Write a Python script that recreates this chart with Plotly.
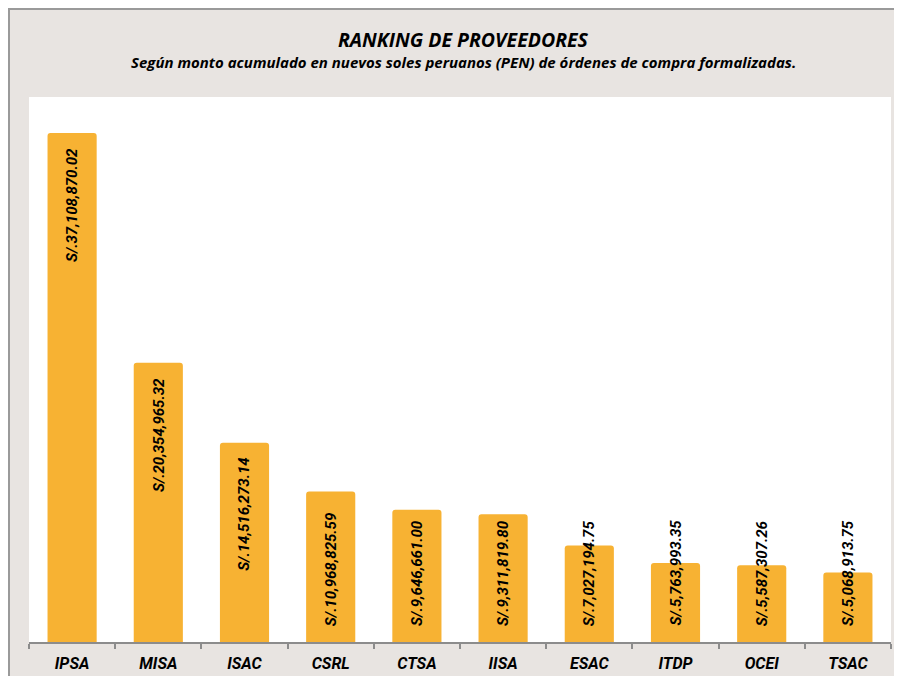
import plotly.graph_objects as go

categories = ["IPSA", "MISA", "ISAC", "CSRL", "CTSA", "IISA", "ESAC", "ITDP", "OCEI", "TSAC"]
values = [37108870.02, 20354965.32, 14516273.14, 10968825.59, 9646661.00,
          9311819.80, 7027194.75, 5763993.35, 5587307.26, 5068913.75]
labels = ["S/.37,108,870.02", "S/.20,354,965.32", "S/.14,516,273.14", "S/.10,968,825.59",
          "S/.9,646,661.00", "S/.9,311,819.80", "S/.7,027,194.75", "S/.5,763,993.35",
          "S/.5,587,307.26", "S/.5,068,913.75"]

# the page has an 8px body margin, so the figure starts at page (8, 8)
W, H = 894, 668
L, R, T, B = 21, 883, 89, 634
BG = "#E8E4E1"
BAR = "#F7B233"
FONT = "Roboto"
TFONT = "Open Sans"

fig = go.Figure(go.Bar(
    x=categories, y=values,
    marker=dict(color=BAR, line=dict(width=0), cornerradius=3),
    hoverinfo="skip",
))

ymax = 39.73e6
# labels: "inside end" when the bar is tall enough, otherwise pushed to the base
threshold = 11.2e6
lblfont = dict(family=FONT, size=15, color="black", weight="bold", style="italic")
annotations = []
for c, v, t in zip(categories, values, labels):
    if v >= threshold:
        annotations.append(dict(x=c, y=v, xref="x", yref="y", text=t, textangle=-90,
                                showarrow=False, yanchor="top", yshift=-13, font=lblfont))
    else:
        annotations.append(dict(x=c, y=0, xref="x", yref="y", text=t, textangle=-90,
                                showarrow=False, yanchor="bottom", yshift=14, font=lblfont))

pw, ph = R - L, B - T
def px(xp):
    return (xp - L) / pw
def py(yp):
    return (B - yp) / ph

annotations.append(dict(x=px(455), y=py(31), xref="paper", yref="paper", text="RANKING DE PROVEEDORES",
                        showarrow=False, xanchor="center", yanchor="middle",
                        font=dict(family=TFONT, size=19.5, color="black", weight="bold", style="italic")))
annotations.append(dict(x=px(455), y=py(54.5), xref="paper", yref="paper",
                        text="Según monto acumulado en nuevos soles peruanos (PEN) de órdenes de compra formalizadas.",
                        showarrow=False, xanchor="center", yanchor="middle",
                        font=dict(family=TFONT, size=15, color="black", weight="bold", style="italic")))

shapes = [
    dict(type="line", xref="paper", yref="paper", x0=px(1), x1=px(1), y0=py(H), y1=py(1),
         line=dict(color="#9a9a9a", width=2)),
    dict(type="line", xref="paper", yref="paper", x0=px(0), x1=px(W), y0=py(1), y1=py(1),
         line=dict(color="#9a9a9a", width=2)),
]

fig.update_layout(
    width=W, height=H,
    margin=dict(l=L, r=W - R, t=T, b=H - B, pad=0, autoexpand=False),
    paper_bgcolor=BG, plot_bgcolor="white",
    bargap=0.43, showlegend=False,
    annotations=annotations, shapes=shapes,
    font=dict(family=FONT),
)
fig.update_xaxes(
    automargin=False,
    showline=True, linecolor="#8c8c8c", linewidth=2,
    ticks="outside", tickson="boundaries", ticklen=5, tickcolor="#8c8c8c", tickwidth=1.5,
    tickfont=dict(family=FONT, size=16, color="black", weight="bold", style="italic"),
    ticklabelstandoff=6, showgrid=False,
)
fig.update_yaxes(automargin=False, range=[0, ymax], visible=False, showgrid=False, zeroline=False)

fig.write_html("out.html")
